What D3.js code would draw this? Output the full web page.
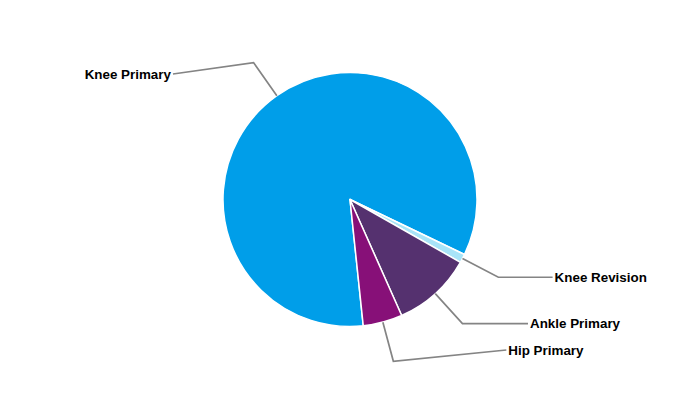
<!DOCTYPE html>
<html>
<head>
<meta charset="utf-8">
<script src="https://cdn.jsdelivr.net/npm/d3@7"></script>
<style>
  html, body { margin: 0; padding: 0; background: #fff; }
  svg { display: block; }
</style>
</head>
<body>
<svg id="chart" width="700" height="400"></svg>
<script>
// Procedure share by category (percent)
const categories = ["Knee Primary", "Knee Revision", "Ankle Primary", "Hip Primary"];
const values = [83.8, 1.1, 10.1, 5.0];
const colors = ["#009EE9", "#A8E4F8", "#55316F", "#871078"];

const width = 700, height = 400;
const cx = 350, cy = 199.5;
const radius = 127;
const bendRadius = 167.5;   // where each connector turns toward its label
const labelRadius = 217;    // labels sit on this circle
const labelTop = 74, labelBottom = 350;

const svg = d3.select("#chart");
const g = svg.append("g").attr("transform", `translate(${cx},${cy})`);

const data = categories.map((c, i) => ({ name: c, value: values[i], color: colors[i] }));

const pie = d3.pie()
  .sort(null)
  .value(d => d.value)
  .startAngle(174 * Math.PI / 180)
  .endAngle(174 * Math.PI / 180 + 2 * Math.PI);

const arcs = pie(data);
const arc = d3.arc().innerRadius(0).outerRadius(radius);

g.selectAll("path.slice")
  .data(arcs)
  .join("path")
  .attr("class", "slice")
  .attr("d", arc)
  .attr("fill", d => d.data.color)
  .attr("stroke", "#fff")
  .attr("stroke-width", 1.5)
  .attr("stroke-linejoin", "round");

// Point on a circle of radius r at d3 angle a (0 = up, clockwise)
const polar = (r, a) => [r * Math.sin(a), -r * Math.cos(a)];

const labels = arcs.map(d => {
  const mid = (d.startAngle + d.endAngle) / 2;
  const edge = polar(radius, mid);
  const bend = polar(bendRadius, mid);
  const right = Math.sin(mid) > 0;
  const ly = Math.max(labelTop - cy, Math.min(labelBottom - cy, bend[1]));
  const lx = (right ? 1 : -1) * Math.sqrt(labelRadius * labelRadius - ly * ly);
  return { d, edge, bend, right, lx, ly };
});

g.selectAll("path.connector")
  .data(labels)
  .join("path")
  .attr("class", "connector")
  .attr("d", l => d3.line()([l.edge, l.bend, [l.lx, l.ly]]))
  .attr("fill", "none")
  .attr("stroke", "#848484")
  .attr("stroke-width", 1.7);

g.selectAll("text.label")
  .data(labels)
  .join("text")
  .attr("class", "label")
  .attr("x", l => l.lx + (l.right ? 2 : -2))
  .attr("y", l => l.ly)
  .attr("dy", "0.35em")
  .attr("text-anchor", l => l.right ? "start" : "end")
  .attr("font-family", "'Liberation Sans', Arial, sans-serif")
  .attr("font-weight", "bold")
  .attr("font-size", "13.4px")
  .attr("fill", "#000")
  .text(l => l.d.data.name);
</script>
</body>
</html>
